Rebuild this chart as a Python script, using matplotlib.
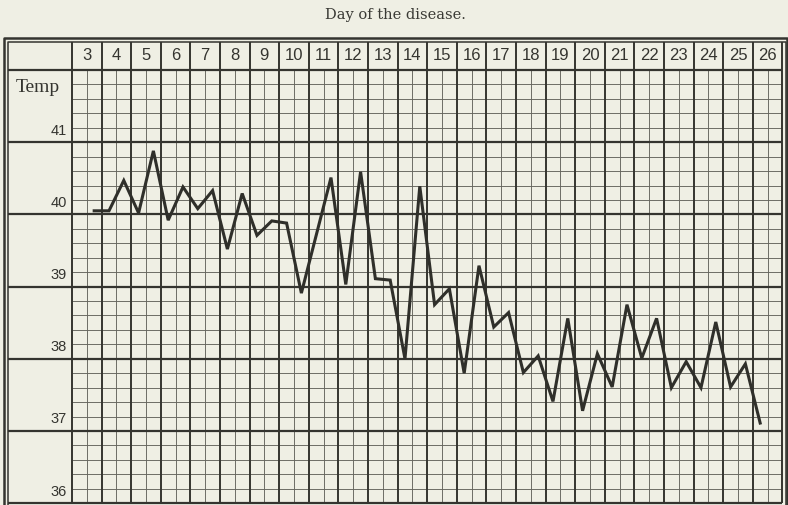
import matplotlib.pyplot as plt

# temperature readings, morning and evening, starting with the evening of day 3
temps = [40.05, 40.05, 40.47, 40.02, 40.88, 39.92, 40.38, 40.08, 40.33, 39.52,
         40.29, 39.71, 39.91, 39.88, 38.91, 39.71, 40.51, 39.03, 40.59, 39.11,
         39.09, 38.00, 40.39, 38.75, 38.97, 37.80, 39.29, 38.44, 38.64, 37.81,
         38.04, 37.41, 38.56, 37.28, 38.07, 37.61, 38.75, 38.01, 38.56, 37.60,
         37.96, 37.60, 38.51, 37.61, 37.93, 37.11]
first_reading = 3.75
days = list(range(3, 27))
degrees = [41, 40, 39, 38, 37, 36]

paper = '#efefe4'
ink = '#34342f'
thin_ink = '#64645c'

x_read = [first_reading + 0.5 * k for k in range(len(temps))]

fig = plt.figure(figsize=(7.88, 5.05), dpi=100, facecolor=paper)
ax = fig.add_axes([0, 0, 1, 1])
ax.set_facecolor(paper)
ax.set_xlim(0.568, 27.19)
ax.set_ylim(35.975, 42.97)
ax.axis('off')

x0, x1 = days[0], days[-1] + 1      # chart columns
y0, y1 = 36, 42                     # chart rows
left = 0.84                         # inner frame, left
top = 42.39                         # inner frame, top

# fine grid: half days and fifths of a degree
halves = [d + 0.5 for d in days]
fifths = [y0 + 0.2 * k for k in range(int((y1 - y0) * 5) + 1) if k % 5]
ax.vlines(halves, y0, y1, color=thin_ink, lw=0.65)
ax.hlines(fifths, x0, x1, color=thin_ink, lw=0.65)

# day boundaries run up through the header
ax.vlines(days + [x1], y0, top, color=ink, lw=1.4)
# whole degrees run across into the label column
ax.hlines(list(range(y0, y1 + 1)), left, x1, color=ink, lw=1.6)

# double outer frame
ax.plot([left, left, x1 + 0.12, x1 + 0.12], [y0 - 0.05, top, top, y0 - 0.05], color=ink, lw=1.1)
ax.plot([0.70, 0.70, 27.15, 27.15], [y0 - 0.05, 42.44, 42.44, y0 - 0.05], color=ink, lw=1.8)

for d in days:
    ax.text(d + 0.5, 42.2, str(d), ha='center', va='center', fontsize=12,
            family='Liberation Sans', color=ink)

for t in degrees:
    ax.text(2.82, t + 0.16, str(t), ha='right', va='center', fontsize=10.5,
            family='Liberation Sans', color=ink)

ax.text(1.85, 41.76, 'Temp', ha='center', va='center', fontsize=14,
        family='Liberation Serif', color=ink)

ax.plot(x_read, temps, color='#2f2f2a', lw=2.2, solid_joinstyle='miter')

fig.text(395 / 788, 1 - 15 / 505, 'Day of the disease.', ha='center', va='center',
         fontsize=10.5, family='DejaVu Serif', color='#3a3a35')

fig.savefig('out.png', dpi=100, facecolor=paper)
